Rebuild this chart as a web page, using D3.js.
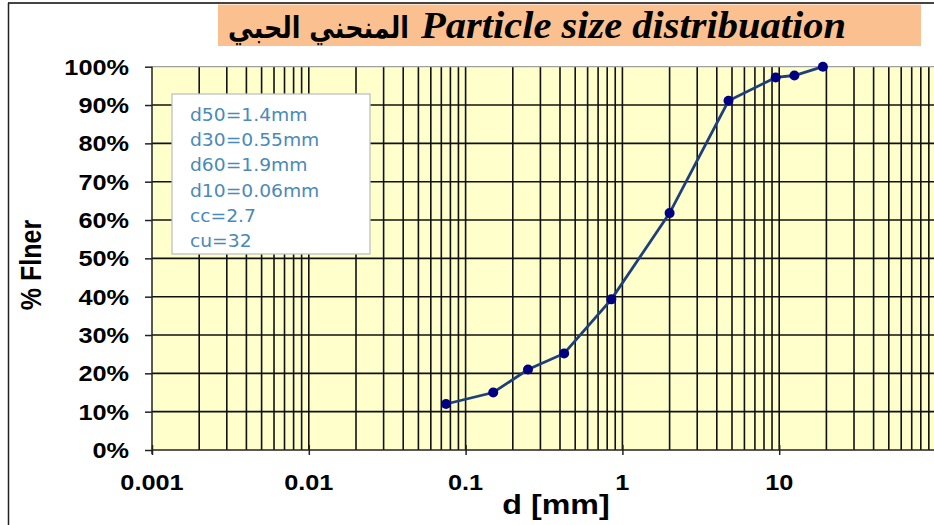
<!DOCTYPE html>
<html>
<head>
<meta charset="utf-8">
<script src="https://cdn.jsdelivr.net/npm/d3@7"></script>
<style>
    html, body { margin: 0; padding: 0; background: #fff; overflow: hidden; }
</style>
</head>
<body>
<div id="content"></div>
<script>
// sieve analysis data
let sieveSizes = [0.075, 0.15, 0.25, 0.425, 0.85, 2, 4.75, 9.5, 12.5, 19];
let percentFiner = [0.12, 0.15, 0.21, 0.252, 0.393, 0.618, 0.911, 0.972, 0.977, 1.0];

let xTickValues = [0.001, 0.01, 0.1, 1, 10];
let xTickLabels = ["0.001", "0.01", "0.1", "1", "10"];
let yTickValues = [0, 0.1, 0.2, 0.3, 0.4, 0.5, 0.6, 0.7, 0.8, 0.9, 1.0];

let infoLines = ["d50=1.4mm", "d30=0.55mm", "d60=1.9mm", "d10=0.06mm", "cc=2.7", "cu=32"];

let titleArabic = "المنحني الحبي";
let titleLatin = "Particle size distribuation";

let width = 934, height = 525;
let stretch = 1.15; // the source picture is a bit wide

let svg = d3.select("#content").append("svg")
    .attr("width", width)
    .attr("height", height);

let plot = { left: 152, right: 936, top: 66.7, bottom: 450 };

let x = d3.scaleLog().domain([0.001, 100]).range([plot.left, plot.right]);
let y = d3.scaleLinear().domain([0, 1]).range([plot.bottom, plot.top]);

// chart area border (only top and left visible)
svg.append("line").attr("x1", 8).attr("x2", width).attr("y1", 3).attr("y2", 3)
    .attr("stroke", "#444").attr("stroke-width", 2);
svg.append("line").attr("x1", 8.5).attr("x2", 8.5).attr("y1", 3).attr("y2", height)
    .attr("stroke", "#222").attr("stroke-width", 1.5);

// title box
svg.append("rect")
    .attr("x", 218).attr("y", 4.5)
    .attr("width", 703).attr("height", 41.5)
    .attr("fill", "#FAC090");

svg.append("text")
    .attr("x", 409).attr("y", 38)
    .attr("text-anchor", "end")
    .attr("textLength", 181)
    .attr("lengthAdjust", "spacingAndGlyphs")
    .style("font-family", "'DejaVu Sans', sans-serif")
    .style("font-weight", "bold")
    .style("font-size", "30px")
    .attr("fill", "#000")
    .text(titleArabic);

svg.append("text")
    .attr("x", 421).attr("y", 38)
    .attr("textLength", 425)
    .attr("lengthAdjust", "spacingAndGlyphs")
    .style("font-family", "'Liberation Serif', 'Times New Roman', serif")
    .style("font-weight", "bold")
    .style("font-style", "italic")
    .style("font-size", "37px")
    .attr("fill", "#000")
    .text(titleLatin);

// plot background
svg.append("rect")
    .attr("x", plot.left).attr("y", plot.top)
    .attr("width", plot.right - plot.left).attr("height", plot.bottom - plot.top)
    .attr("fill", "#FFFFCC");

// vertical grid (log minor lines)
let grid = svg.append("g").attr("class", "grid");
grid.selectAll("line.v")
    .data(x.ticks().filter(d => d > 0.001))
    .enter().append("line")
    .attr("class", "v")
    .attr("x1", d => x(d)).attr("x2", d => x(d))
    .attr("y1", plot.top).attr("y2", plot.bottom)
    .attr("stroke", "#111")
    .attr("stroke-width", 1.6);

grid.selectAll("line.h")
    .data(yTickValues.filter(d => d > 0 && d < 1))
    .enter().append("line")
    .attr("class", "h")
    .attr("x1", plot.left).attr("x2", plot.right)
    .attr("y1", d => y(d)).attr("y2", d => y(d))
    .attr("stroke", "#111")
    .attr("stroke-width", 1.6);

// plot top border
svg.append("line")
    .attr("x1", plot.left).attr("x2", plot.right)
    .attr("y1", plot.top).attr("y2", plot.top)
    .attr("stroke", "#a0a0a0").attr("stroke-width", 1.3);

// axes
let xAxis = d3.axisBottom(x)
    .tickValues(xTickValues)
    .tickSize(5)
    .tickFormat("");
let xg = svg.append("g")
    .attr("transform", `translate(0,${plot.bottom})`)
    .call(xAxis);
xg.select(".domain").remove();
xg.selectAll(".tick line").attr("y1", -5).attr("stroke", "#222").attr("stroke-width", 1.5);

let yAxis = d3.axisLeft(y)
    .tickValues(yTickValues)
    .tickSize(7)
    .tickFormat("");
let yg = svg.append("g")
    .attr("transform", `translate(${plot.left},0)`)
    .call(yAxis);
yg.select(".domain").remove();
yg.selectAll(".tick line").attr("stroke", "#222").attr("stroke-width", 1.5);

svg.append("line")
    .attr("x1", plot.left).attr("x2", plot.right)
    .attr("y1", plot.bottom).attr("y2", plot.bottom)
    .attr("stroke", "#222").attr("stroke-width", 1.5);
svg.append("line")
    .attr("x1", plot.left).attr("x2", plot.left)
    .attr("y1", plot.top).attr("y2", plot.bottom + 4)
    .attr("stroke", "#222").attr("stroke-width", 1.5);

// tick labels (stretched text)
svg.append("g").selectAll("text")
    .data(yTickValues)
    .enter().append("text")
    .attr("transform", d => `translate(129,${y(d) + 8}) scale(${stretch},1)`)
    .attr("text-anchor", "end")
    .style("font-family", "'Liberation Sans', Arial, sans-serif")
    .style("font-weight", "bold")
    .style("font-size", "22px")
    .attr("fill", "#000")
    .text(d3.format(".0%"));

svg.append("g").selectAll("text")
    .data(xTickValues)
    .enter().append("text")
    .attr("transform", d => `translate(${x(d)},490) scale(${stretch},1)`)
    .attr("text-anchor", "middle")
    .style("font-family", "'Liberation Sans', Arial, sans-serif")
    .style("font-weight", "bold")
    .style("font-size", "22px")
    .attr("fill", "#000")
    .text((d, i) => xTickLabels[i]);

// axis titles
svg.append("text")
    .attr("transform", `translate(556,514) scale(${stretch},1)`)
    .attr("text-anchor", "middle")
    .style("font-family", "'Liberation Sans', Arial, sans-serif")
    .style("font-weight", "bold")
    .style("font-size", "28px")
    .text("d [mm]");

svg.append("text")
    .attr("transform", `translate(41,265) scale(${stretch},1) rotate(-90)`)
    .attr("text-anchor", "middle")
    .style("font-family", "'Liberation Sans', Arial, sans-serif")
    .style("font-weight", "bold")
    .style("font-size", "25px")
    .text("% Flner");

// info box
svg.append("rect")
    .attr("x", 172).attr("y", 94)
    .attr("width", 198).attr("height", 160)
    .attr("fill", "#fff")
    .attr("stroke", "#c0c0c0")
    .attr("stroke-width", 1.3);

svg.append("g").selectAll("text")
    .data(infoLines)
    .enter().append("text")
    .attr("transform", (d, i) => `translate(190,${120.7 + i * 25.3}) scale(1.1,1)`)
    .style("font-family", "'DejaVu Sans', Verdana, sans-serif")
    .style("font-size", "17px")
    .attr("fill", "#4A8AB8")
    .text(d => d);

// the gradation curve
let points = sieveSizes.map((s, i) => ({ size: s, finer: percentFiner[i] }));

svg.append("path")
    .datum(points)
    .attr("fill", "none")
    .attr("stroke", "#1F3F7A")
    .attr("stroke-width", 2.8)
    .attr("d", d3.line().x(d => x(d.size)).y(d => y(d.finer)));

svg.append("g").selectAll("circle")
    .data(points)
    .enter().append("circle")
    .attr("cx", d => x(d.size))
    .attr("cy", d => y(d.finer))
    .attr("r", 5)
    .attr("fill", "#000080");
</script>
</body>
</html>
